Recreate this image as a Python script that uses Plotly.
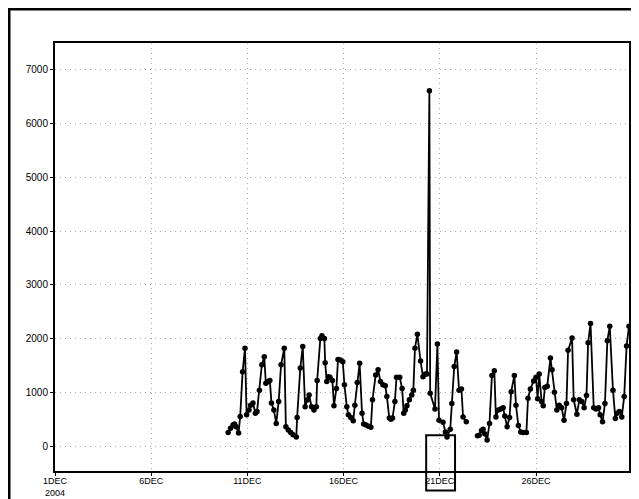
import plotly.graph_objects as go
import pandas as pd

# hours since 2004-12-01 00:00 and values
hours = [216, 219, 222, 224, 226, 229, 231, 234, 237, 239,
         242, 244, 247, 250, 252, 255, 258, 261, 263, 266,
         268, 270, 273, 276, 279, 282, 286, 288, 291, 294,
         297, 301, 302, 306, 309, 312, 315, 317, 320, 323,
         326, 327, 331, 333, 336, 337, 339, 341, 343, 346,
         348, 351, 353, 356, 359, 361, 364, 366, 369, 372,
         374, 377, 380, 383, 385, 388, 391, 394, 396, 400,
         403, 406, 409, 412, 414, 417, 419, 421, 424, 426,
         430, 433, 435, 437, 439, 442, 445, 447, 449, 452,
         456, 459, 462, 464, 467, 468, 474, 477, 479, 484,
         487, 489, 493, 495, 498, 501, 504, 507, 509, 513,
         520,
         527, 529, 532, 534, 536, 539, 542, 545, 548, 550,
         553, 556, 559, 561, 564, 567, 569, 573, 575, 578,
         581, 584, 588, 590, 593, 597, 600, 602, 604, 607,
         609, 611, 614, 618, 620, 623, 626, 629, 632, 635,
         638, 640, 645, 647, 651, 654, 657, 660, 663, 665,
         668, 672, 675, 678, 680, 683, 686, 689, 692, 696,
         699, 701, 704, 707, 710, 713, 716]

values = [250, 330, 390, 410, 360, 240, 550, 1380, 1820, 580,
          670, 760, 800, 610, 640, 1040, 1510, 1660, 1170, 1200,
          1220, 800, 670, 420, 830, 1510, 1820, 360, 300, 250,
          210, 170, 530, 1450, 1850, 730, 860, 950, 730, 670,
          730, 1220, 2000, 2050, 2000, 1550, 1200, 1290, 1280, 1220,
          750, 1070, 1610, 1600, 1570, 1140, 730, 580, 530, 470,
          760, 1180, 1540, 610, 410, 390, 370, 350, 860, 1320,
          1420, 1200, 1140, 1120, 920, 520, 500, 520, 830, 1280,
          1280, 1070, 610, 670, 750, 860, 950, 1040, 1820, 2080,
          1580, 1290, 1340, 1340, 6610, 980, 690, 1900, 480, 440,
          260, 170, 310, 790, 1480, 1750, 1040, 1060, 540, 450,
          None,
          190, 200, 290, 310, 230, 110, 420, 1310, 1400, 540,
          670, 690, 710, 560, 360, 530, 1010, 1310, 760, 380,
          260, 250, 250, 890, 1060, 1210, 1280, 880, 1340, 830,
          750, 1090, 1110, 1640, 1420, 1000, 670, 760, 710, 480,
          790, 1780, 2010, 860, 590, 860, 830, 710, 940, 1920,
          2280, 710, 690, 710, 580, 450, 790, 1960, 2230, 1040,
          510, 610, 640, 540, 920, 1860, 2230]

x_tick_days = [1, 6, 11, 16, 21, 26]
x_tick_labels = ["1DEC<br>2004", "6DEC", "11DEC", "16DEC", "21DEC", "26DEC"]
y_ticks = [0, 1000, 2000, 3000, 4000, 5000, 6000, 7000]

start = pd.Timestamp("2004-12-01 00:00")
x_end_hours = 716
y_range = [-465, 7500]

# highlight box (hours since start, value bounds)
box_hours = [463, 499]
box_values = [-830, 200]

times = [start + pd.Timedelta(hours=h) for h in hours]
tickvals = [start + pd.Timedelta(days=d - 1) for d in x_tick_days]

fig = go.Figure()
fig.add_trace(go.Scatter(
    x=times, y=values, mode="lines+markers",
    line=dict(color="black", width=1.8),
    marker=dict(color="black", size=5.5),
    connectgaps=False, showlegend=False,
))

grid = dict(showgrid=True, gridcolor="#aaaaaa", griddash="1px,4px", gridwidth=1)
fig.update_xaxes(
    range=[start, start + pd.Timedelta(hours=x_end_hours)],
    tickvals=tickvals, ticktext=x_tick_labels,
    ticks="outside", ticklen=3, tickcolor="black",
    ticklabelstandoff=-3,
    showline=True, linecolor="black", linewidth=2, mirror=True,
    tickfont=dict(family="Liberation Sans, Arial", size=9, color="black"),
    zeroline=False, automargin=False, **grid,
)
fig.update_yaxes(
    range=y_range, tickvals=y_ticks,
    ticks="outside", ticklen=3, tickcolor="black",
    showline=True, linecolor="black", linewidth=2, mirror=True,
    tickfont=dict(family="Liberation Sans, Arial", size=10, color="black"),
    zeroline=False, automargin=False, **grid,
)

def xp(h):
    return h / x_end_hours

def yp(v):
    return (v - y_range[0]) / (y_range[1] - y_range[0])

fig.add_shape(type="rect", xref="paper", yref="paper",
              x0=xp(box_hours[0]), x1=xp(box_hours[1]),
              y0=yp(box_values[0]), y1=yp(box_values[1]),
              line=dict(color="black", width=2), fillcolor="rgba(0,0,0,0)")

# outer frame (page body adds an 8px offset, so it sits at the figure edge)
W, H = 631, 491
ML, MR, MT, MB = 47, 10, 35, 28
pw, ph = W - ML - MR, H - MT - MB
fig.add_shape(type="rect", xref="paper", yref="paper",
              x0=(1 - ML) / pw, x1=1.2, y0=-0.3, y1=(H - MB - 1) / ph,
              line=dict(color="black", width=3), fillcolor="rgba(0,0,0,0)")

fig.update_layout(
    width=W, height=H,
    margin=dict(l=ML, r=MR, t=MT, b=MB, autoexpand=False),
    plot_bgcolor="white", paper_bgcolor="white",
)

fig.write_html("out.html")
